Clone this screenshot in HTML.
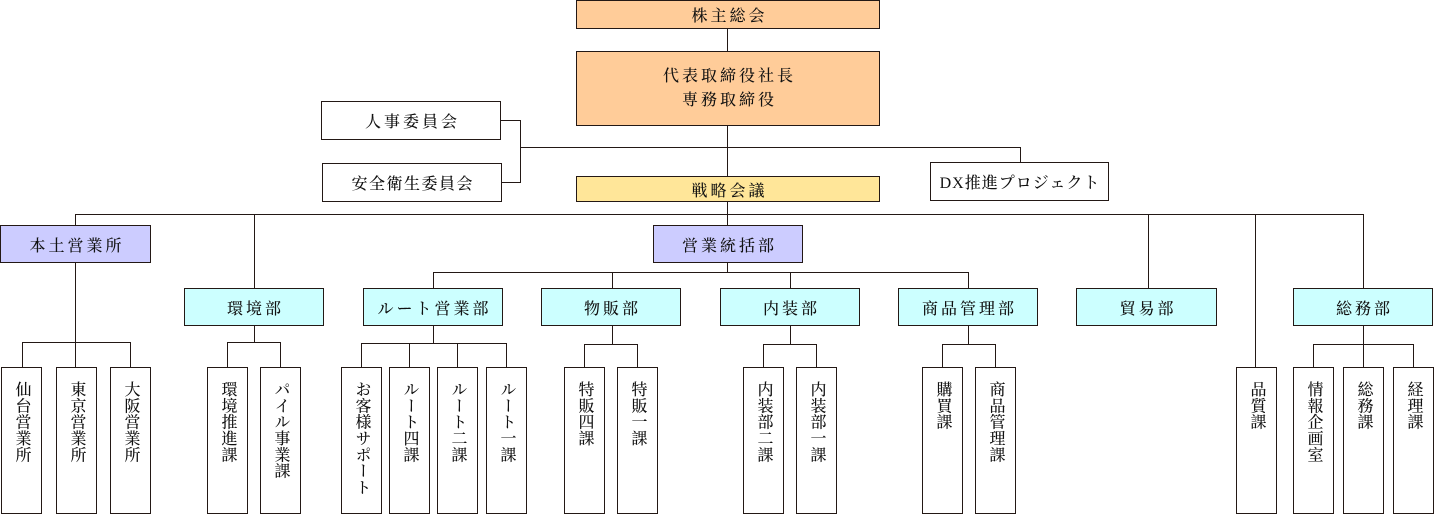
<!DOCTYPE html>
<html><head><meta charset="utf-8">
<style>
html,body{margin:0;padding:0;background:#fff;}
body{width:1437px;height:514px;position:relative;overflow:hidden;
font-family:"Liberation Serif","Noto Serif CJK SC",serif;color:#111;font-weight:500;}
.b{position:absolute;box-sizing:border-box;border:1px solid #231815;font-size:16px;
display:flex;align-items:center;justify-content:center;text-align:center;letter-spacing:3px;padding-left:3px;}
.w{background:#fff;}
.p{background:#ffcc99;}
.y{background:#ffe699;}
.l{background:#ccccff;}
.c{background:#ccffff;}
.v{position:absolute;box-sizing:border-box;border:1px solid #231815;background:#fff;
width:41px;height:147px;top:367px;writing-mode:vertical-rl;font-size:16px;line-height:39px;padding-top:13px;letter-spacing:0.3px;}
svg{position:absolute;left:0;top:0;}
</style></head><body>
<svg width="1437" height="514" viewBox="0 0 1437 514">
<g stroke="#231815" stroke-width="1" fill="none">
<path d="M727.5 28V52M727.5 125V176M727.5 201V225M727.5 262V272.5"/>
<path d="M500 120.5H520.5V182.5H501"/>
<path d="M520.5 147.5H1020.5V162"/>
<path d="M75.5 214.5H1363.5"/>
<path d="M75.5 214V225M254.5 214V288M1148.5 214V288M1255.5 214V367M1363.5 214V288"/>
<path d="M75.5 262V367M22.5 367V342.5H130.5V367"/>
<path d="M254.5 325V342.5M227.5 367V342.5H280.5V367"/>
<path d="M433.5 288V272.5H968.5V288M612.5 272V288M790.5 272V288"/>
<path d="M433.5 325V343.5M361.5 367V343.5H506.5V367M409.5 343V367M457.5 343V367"/>
<path d="M612.5 325V344.5M584.5 367V344.5H637.5V367"/>
<path d="M790.5 325V344.5M763.5 367V344.5H816.5V367"/>
<path d="M968.5 325V344.5M942.5 367V344.5H995.5V367"/>
<path d="M1363.5 325V367M1313.5 367V344.5H1413.5V367"/>
</g>
</svg>

<div class="b p" style="left:576px;top:0;width:304px;height:29px;">株主総会</div>
<div class="b p" style="left:576px;top:51px;width:304px;height:75px;line-height:24px;">代表取締役社長<br>専務取締役</div>
<div class="b w" style="left:321px;top:101px;width:180px;height:39px;">人事委員会</div>
<div class="b w" style="left:322px;top:163px;width:180px;height:39px;letter-spacing:1.5px;padding-left:1.5px;">安全衛生委員会</div>
<div class="b y" style="left:576px;top:176px;width:304px;height:26px;">戦略会議</div>
<div class="b w" style="left:930px;top:162px;width:179px;height:39px;letter-spacing:1px;padding-left:1px;">DX推進プロジェクト</div>

<div class="b l" style="left:0;top:225px;width:151px;height:38px;">本土営業所</div>
<div class="b l" style="left:653px;top:225px;width:150px;height:38px;">営業統括部</div>

<div class="b c" style="left:184px;top:288px;width:140px;height:38px;">環境部</div>
<div class="b c" style="left:363px;top:288px;width:140px;height:38px;">ルート営業部</div>
<div class="b c" style="left:541px;top:288px;width:140px;height:38px;">物販部</div>
<div class="b c" style="left:720px;top:288px;width:140px;height:38px;">内装部</div>
<div class="b c" style="left:898px;top:288px;width:140px;height:38px;">商品管理部</div>
<div class="b c" style="left:1076px;top:288px;width:141px;height:38px;">貿易部</div>
<div class="b c" style="left:1293px;top:288px;width:140px;height:38px;">総務部</div>

<div class="v" style="left:1px;">仙台営業所</div>
<div class="v" style="left:56px;">東京営業所</div>
<div class="v" style="left:110px;">大阪営業所</div>
<div class="v" style="left:207px;">環境推進課</div>
<div class="v" style="left:260px;">パイル事業課</div>
<div class="v" style="left:341px;">お客様サポート</div>
<div class="v" style="left:389px;">ルート四課</div>
<div class="v" style="left:437px;">ルート二課</div>
<div class="v" style="left:486px;">ルート一課</div>
<div class="v" style="left:564px;">特販四課</div>
<div class="v" style="left:617px;">特販一課</div>
<div class="v" style="left:743px;">内装部二課</div>
<div class="v" style="left:796px;">内装部一課</div>
<div class="v" style="left:922px;">購買課</div>
<div class="v" style="left:975px;">商品管理課</div>
<div class="v" style="left:1236px;">品質課</div>
<div class="v" style="left:1293px;">情報企画室</div>
<div class="v" style="left:1343px;">総務課</div>
<div class="v" style="left:1393px;">経理課</div>
</body></html>
